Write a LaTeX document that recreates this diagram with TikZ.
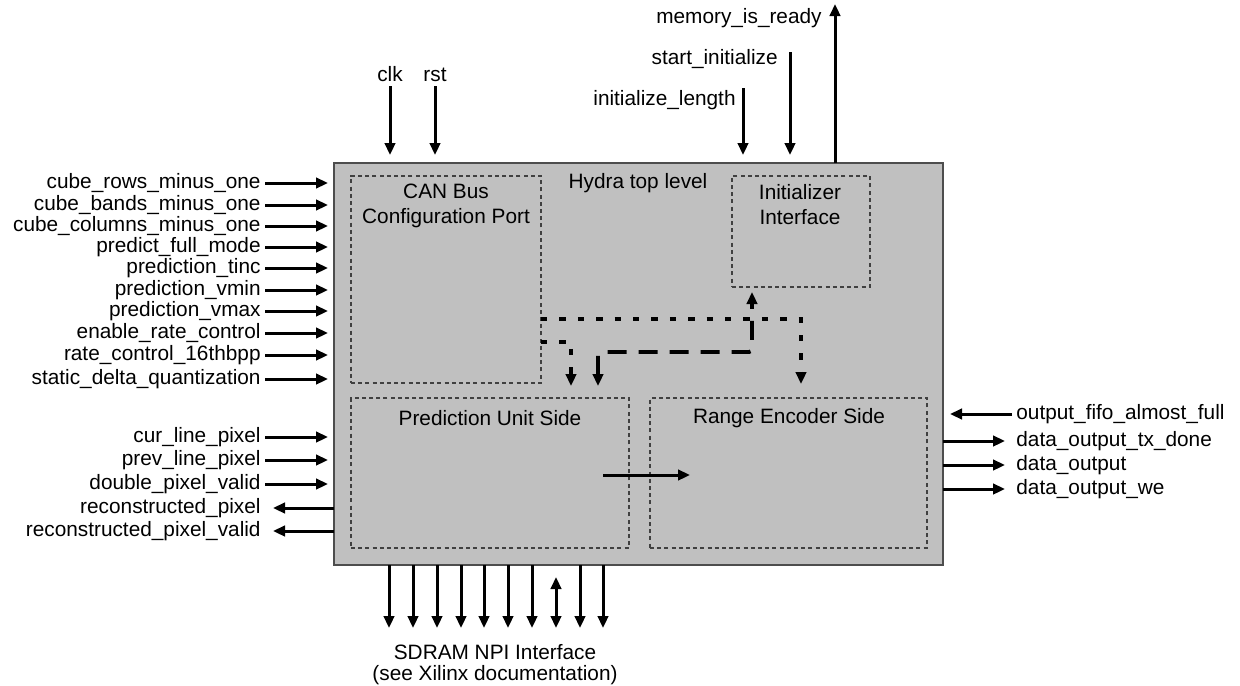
\documentclass[tikz,border=0pt]{standalone}
\usepackage{fontspec}
\setmainfont{Liberation Sans}
\usetikzlibrary{arrows.meta}
\definecolor{boxgray}{HTML}{C0C0C0}
\definecolor{edgegray}{HTML}{4D4D4D}
\begin{document}
\begin{tikzpicture}[x=0.5pt,y=-0.5pt,
  font=\fontsize{10.4}{12.5}\selectfont,
  mainbox/.style={draw=edgegray,fill=boxgray,line width=0.9pt,inner sep=0pt,outer sep=0pt},
  subbox/.style={draw=black!75,dash pattern=on 2pt off 1.6pt,line width=0.55pt,inner sep=0pt,outer sep=0pt},
  txt/.style={inner sep=2pt,text=black},
  tip/.style={Triangle[length=6pt,width=5.2pt]},
  sig/.style={line width=1.5pt,-{Triangle[length=6pt,width=5.2pt]}},
  dsig/.style={line width=1.5pt,{Triangle[length=6pt,width=5.2pt]}-{Triangle[length=6pt,width=5.2pt]}},
  dotsig/.style={line width=1.7pt,dash pattern=on 3.2pt off 6pt,-{Triangle[length=6pt,width=5.2pt]}},
  longsig/.style={line width=1.9pt,dash pattern=on 9.5pt off 6pt,rounded corners=1.5pt,{Triangle[length=6pt,width=5.2pt]}-{Triangle[length=6pt,width=5.2pt]}}
]
\useasboundingbox (0,0) rectangle (1240,685);

% main box and sub-blocks
\node[mainbox,minimum width=304.5pt,minimum height=201pt] (top) at (638.5,364) {};
\node[subbox,minimum width=95pt,minimum height=103.5pt] (can) at (446,279.5) {};
\node[subbox,minimum width=69pt,minimum height=55.5pt] (init) at (801,231.5) {};
\node[subbox,minimum width=139pt,minimum height=75pt] (pred) at (490,473) {};
\node[subbox,minimum width=138.5pt,minimum height=75pt] (range) at (788.5,473) {};

% inner labels
\node[txt] (hydra) at (638,183) {Hydra top level};
\node[txt,align=center] (canlbl) at (446,206) {CAN Bus\\Configuration Port};
\node[txt,align=center] (initlbl) at (800,205) {Initializer\\Interface};
\node[txt] (predlbl) at (490,418) {Prediction Unit Side};
\node[txt] (rangelbl) at (789,418) {Range Encoder Side};

% left inputs
\foreach \n/\y/\t in {l1/183/cube\_rows\_minus\_one,
  l2/205/cube\_bands\_minus\_one,
  l3/226/cube\_columns\_minus\_one,
  l4/247/predict\_full\_mode,
  l5/268/prediction\_tinc,
  l6/290/prediction\_vmin,
  l7/311/prediction\_vmax,
  l8/333/enable\_rate\_control,
  l9/355/rate\_control\_16thbpp,
  l10/379/static\_delta\_quantization,
  l11/437/cur\_line\_pixel,
  l12/460/prev\_line\_pixel,
  l13/484/double\_pixel\_valid}{
  \node[txt,anchor=east] (\n) at (265,\y) {\t};
  \draw[sig,shorten >=3pt] (\n.east) -- (\n.east -| top.west);
}
\foreach \n/\y/\t in {l14/508/reconstructed\_pixel,
  l15/531/reconstructed\_pixel\_valid}{
  \node[txt,anchor=east] (\n) at (265,\y) {\t};
  \draw[sig,shorten >=4pt] (\n.east -| top.west) -- (\n.east);
}

% right side
\node[txt,anchor=west] (r1) at (1012,414) {output\_fifo\_almost\_full};
\draw[sig,shorten >=3.5pt] (r1.west) -- (r1.west -| top.east);
\foreach \n/\y/\t in {r2/441/data\_output\_tx\_done,
  r3/465/data\_output,
  r4/489/data\_output\_we}{
  \node[txt,anchor=west] (\n) at (1012,\y) {\t};
  \draw[sig,shorten >=3.5pt] (\n.west -| top.east) -- (\n.west);
}

% top
\node[txt,anchor=south] (clk) at (390,86) {clk};
\node[txt,anchor=south] (rst) at (435,86) {rst};
\draw[sig,shorten >=4pt] (clk.south) -- (clk.south |- top.north);
\draw[sig,shorten >=4pt] (rst.south) -- (rst.south |- top.north);

\node[txt,anchor=east] (ilen) at (740,100) {initialize\_length};
\coordinate (ilenA) at (743,88);
\draw[sig,shorten >=4pt] (ilenA) -- (ilenA |- top.north);

\node[txt,anchor=east] (sinit) at (782,59) {start\_initialize};
\coordinate (sinitA) at (790,52);
\draw[sig,shorten >=4pt] (sinitA) -- (sinitA |- top.north);

\node[txt,anchor=east] (mrdy) at (826,18) {memory\_is\_ready};
\coordinate (mrdyA) at (835,4);
\draw[sig] (mrdyA |- top.north) -- (mrdyA);

% bottom SDRAM
\node[txt,align=center,anchor=north,font=\fontsize{10.4}{10.6}\selectfont] (sdram) at (495,640) {SDRAM NPI Interface\\(see Xilinx documentation)};
\foreach \x/\k in {389/a,413/b,437/c,461/d,484/e,508/f,532/g,580/i,603/j}{
  \coordinate (b\k) at (\x,628);
  \draw[sig] (b\k |- top.south) -- (b\k);
}
\coordinate (bh) at (556,628);
\draw[dsig,shorten <=6pt] (bh |- top.south) -- (bh);

% internal connections
\coordinate (pa) at (603,475);
\coordinate (pb) at (690,475);
\draw[sig] (pa) -- (pb);

\coordinate (d1) at (801,319);
\draw[dotsig,shorten >=7pt] (can.east |- d1) -- (d1) -- (d1 |- range.north);
\coordinate (d2) at (571,342);
\draw[dotsig,shorten >=6pt] (can.east |- d2) -- (d2) -- (d2 |- pred.north);
\coordinate (e1) at (598,352);
\coordinate (e2) at (752,352);
\draw[longsig,shorten <=6pt,shorten >=2.5pt] (e1 |- pred.north) -- (e1) -- (e2) -- (e2 |- init.south);
\end{tikzpicture}
\end{document}
